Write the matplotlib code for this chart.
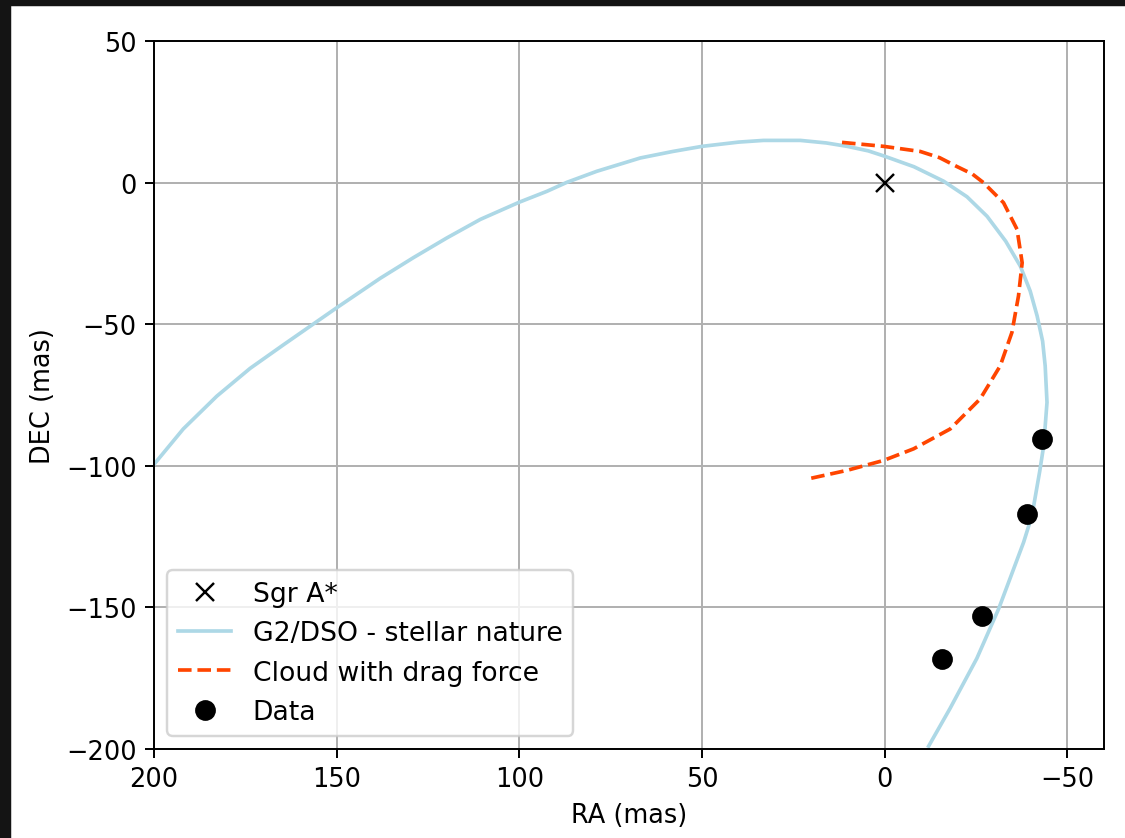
import matplotlib
matplotlib.use("Agg")
import matplotlib.pyplot as plt
from matplotlib.patches import Rectangle

# Sgr A* position
sgr_ra = [0]
sgr_dec = [0]

# G2/DSO orbit (stellar nature)
orbit_ra = [200.0, 192.0, 182.8, 173.7, 164.6, 156.8, 150.0, 138.1, 129.0, 119.8,
            110.7, 100.0, 92.5, 87.0, 78.8, 66.9, 58.0, 50.0, 40.0, 33.2,
            23.1, 16.0, 10.3, 4.5, 0.0, -8.0, -16.1, -22.5, -28.0, -33.1,
            -37.1, -39.8, -41.7, -43.2, -43.9, -44.4, -43.5, -42.4, -40.3, -38.0,
            -35.3, -31.2, -25.2, -17.9, -12.0]
orbit_dec = [-99.5, -87.0, -75.4, -65.6, -57.3, -50.3, -44.2, -33.8, -26.5, -19.5,
             -13.0, -6.9, -3.1, 0.1, 4.0, 8.7, 11.0, 12.8, 14.3, 14.9,
             14.9, 14.0, 12.8, 11.2, 9.3, 5.6, 0.5, -5.0, -11.9, -20.7,
             -29.5, -38.3, -47.1, -56.0, -64.7, -77.6, -92.9, -102.0, -117.5, -127.0,
             -136.3, -150.4, -168.0, -185.6, -199.0]

# cloud with drag force
cloud_ra = [11.7, 0.3, -9.7, -15.0, -19.7, -24.0, -27.0, -32.5, -36.2, -37.6,
            -36.6, -34.8, -31.6, -26.1, -17.9, -7.9, 0.3, 10.3, 20.9]
cloud_dec = [14.2, 12.8, 11.0, 8.8, 5.7, 3.0, 0.0, -7.1, -16.5, -28.3,
             -40.0, -52.9, -64.7, -76.4, -87.0, -94.0, -98.1, -101.6, -104.6]

# observations
data_ra = [-43.0, -38.9, -26.6, -15.7]
data_dec = [-90.5, -116.9, -152.9, -168.2]

plt.rcParams["font.size"] = 10.5

fig = plt.figure(figsize=(1125 / 176, 839 / 176), dpi=176)
# dark photo edge around the figure
fig.patches.append(Rectangle((0, 0), 10 / 1125, 1, transform=fig.transFigure,
                             color="#141414", zorder=-10))
fig.patches.append(Rectangle((0, 1 - 6 / 839), 1, 6 / 839, transform=fig.transFigure,
                             color="#141414", zorder=-10))

ax = fig.add_axes([154 / 1125, 1 - 750 / 839, (1104 - 154) / 1125, (750 - 42) / 839])

ax.plot(sgr_ra, sgr_dec, "x", color="black", ms=7, label="Sgr A*")
ax.plot(orbit_ra, orbit_dec, color="lightblue", label="G2/DSO - stellar nature")
ax.plot(cloud_ra, cloud_dec, "--", color="orangered", label="Cloud with drag force")
ax.plot(data_ra, data_dec, "o", color="black", ms=7.5, label="Data")

ax.set_xlim(200, -60)
ax.set_ylim(-200, 50)
ax.set_xlabel("RA (mas)")
ax.set_ylabel("DEC (mas)")
ax.grid(True)
ax.legend(loc="lower left", fontsize=10.9)

fig.savefig("out.png", dpi=176)
